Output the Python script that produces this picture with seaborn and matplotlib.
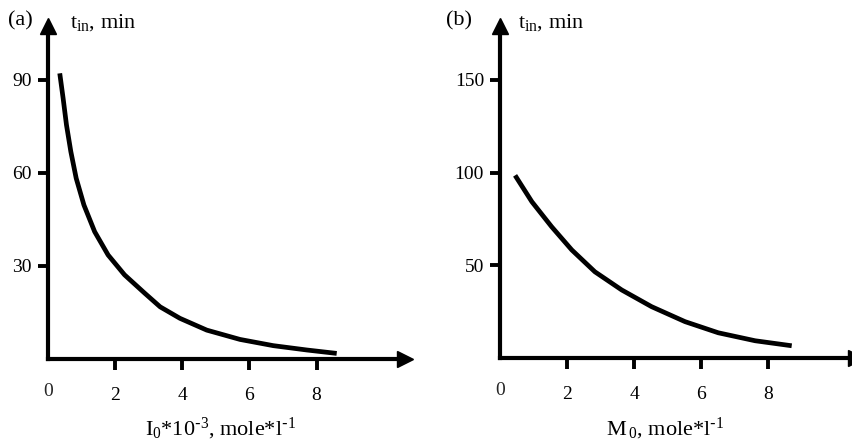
import matplotlib
matplotlib.use("Agg")
import matplotlib.pyplot as plt
import seaborn as sns
import pandas as pd

# Induction period vs. initiator concentration
i0_conc = [0.35, 0.45, 0.55, 0.68, 0.84, 1.07, 1.39, 1.79, 2.28, 2.88, 3.34,
           3.93, 4.73, 5.72, 6.71, 7.71, 8.60]
t_in_a = [92.0, 84.0, 75.4, 66.8, 58.2, 49.6, 41.0, 33.5, 27.1, 21.2, 16.8,
          13.1, 9.3, 6.3, 4.3, 2.9, 1.8]

# Induction period vs. monomer concentration
m0_conc = [0.45, 0.95, 1.54, 2.14, 2.83, 3.63, 4.52, 5.52, 6.51, 7.61, 8.70]
t_in_b = [98.5, 84.3, 70.8, 58.3, 46.5, 36.7, 27.7, 19.6, 13.6, 9.3, 6.6]

x_ticks = [2, 4, 6, 8]
y_ticks_a = [30, 60, 90]
y_ticks_b = [50, 100, 150]

sns.set_theme(style="white")
plt.rcParams["font.family"] = ["Liberation Serif", "DejaVu Serif"]
plt.rcParams["mathtext.default"] = "regular"

W, H = 853, 445
fig = plt.figure(figsize=(W / 100, H / 100), dpi=100)
fig.patch.set_facecolor("white")

FS_TICK = 14
FS_LABEL = 16


def px_axes(left, bottom, right, top):
    """Axes rectangle given in figure pixels (origin top-left)."""
    return fig.add_axes([left / W, 1 - bottom / H, (right - left) / W, (bottom - top) / H])


def style_axes(ax, xmax, ymax, yticks):
    ax.set_xlim(0, xmax)
    ax.set_ylim(0, ymax)
    ax.set_facecolor("none")
    for side in ("top", "right"):
        ax.spines[side].set_visible(False)
    for side in ("left", "bottom"):
        ax.spines[side].set_linewidth(3.0)
        ax.spines[side].set_color("black")
    ax.set_xticks(x_ticks)
    ax.set_yticks(yticks)
    ax.tick_params(axis="x", direction="out", length=8, width=2.8, pad=12,
                   labelsize=FS_TICK, colors="black", bottom=True)
    ax.tick_params(axis="y", direction="out", length=7.5, width=2.8, pad=4,
                   labelsize=FS_TICK, colors="black", left=True)
    ax.set_xlabel("")
    ax.set_ylabel("")
    # arrow heads at the ends of both axes
    ax.plot(1, 0, ">", color="black", ms=12, transform=ax.transAxes, clip_on=False)
    ax.plot(0, 1, "^", color="black", ms=12, transform=ax.transAxes, clip_on=False)
    # origin label
    ax.annotate("0", xy=(0, 0), xytext=(0, -23.5), textcoords="offset points",
                ha="center", va="center", fontsize=FS_TICK, annotation_clip=False)


# ---- panel (a)
ax_a = px_axes(48, 359, 405, 26)
df_a = pd.DataFrame({"I0": i0_conc, "t_in": t_in_a})
sns.lineplot(data=df_a, x="I0", y="t_in", ax=ax_a, color="black", linewidth=3.4,
             solid_capstyle="butt", solid_joinstyle="round")
style_axes(ax_a, (405 - 48) / 33.57, (359 - 26) / 3.105, y_ticks_a)

# ---- panel (b)
ax_b = px_axes(500, 358, 856, 26)
df_b = pd.DataFrame({"M0": m0_conc, "t_in": t_in_b})
sns.lineplot(data=df_b, x="M0", y="t_in", ax=ax_b, color="black", linewidth=3.4,
             solid_capstyle="butt", solid_joinstyle="round")
style_axes(ax_b, (856 - 500) / 33.53, (358 - 26) / 1.854, y_ticks_b)


def fig_text(x, y, s, **kw):
    fig.text(x / W, 1 - y / H, s, fontsize=FS_LABEL, color="black", **kw)


fig_text(8, 21, "(a)", ha="left", va="center")
fig_text(70, 28, r"t$_{in}$, min", ha="left", va="baseline")
fig_text(220, 435, r"I$_0$*10$^{\text{-}3}$, mole*l$^{\text{-}1}$", ha="center", va="baseline")

fig_text(446, 21, "(b)", ha="left", va="center")
fig_text(518, 28, r"t$_{in}$, min", ha="left", va="baseline")
fig_text(665, 435, r"M$_{\,0}$, mole*l$^{\text{-}1}$", ha="center", va="baseline")

fig.savefig("out.png", dpi=100, facecolor="white")
